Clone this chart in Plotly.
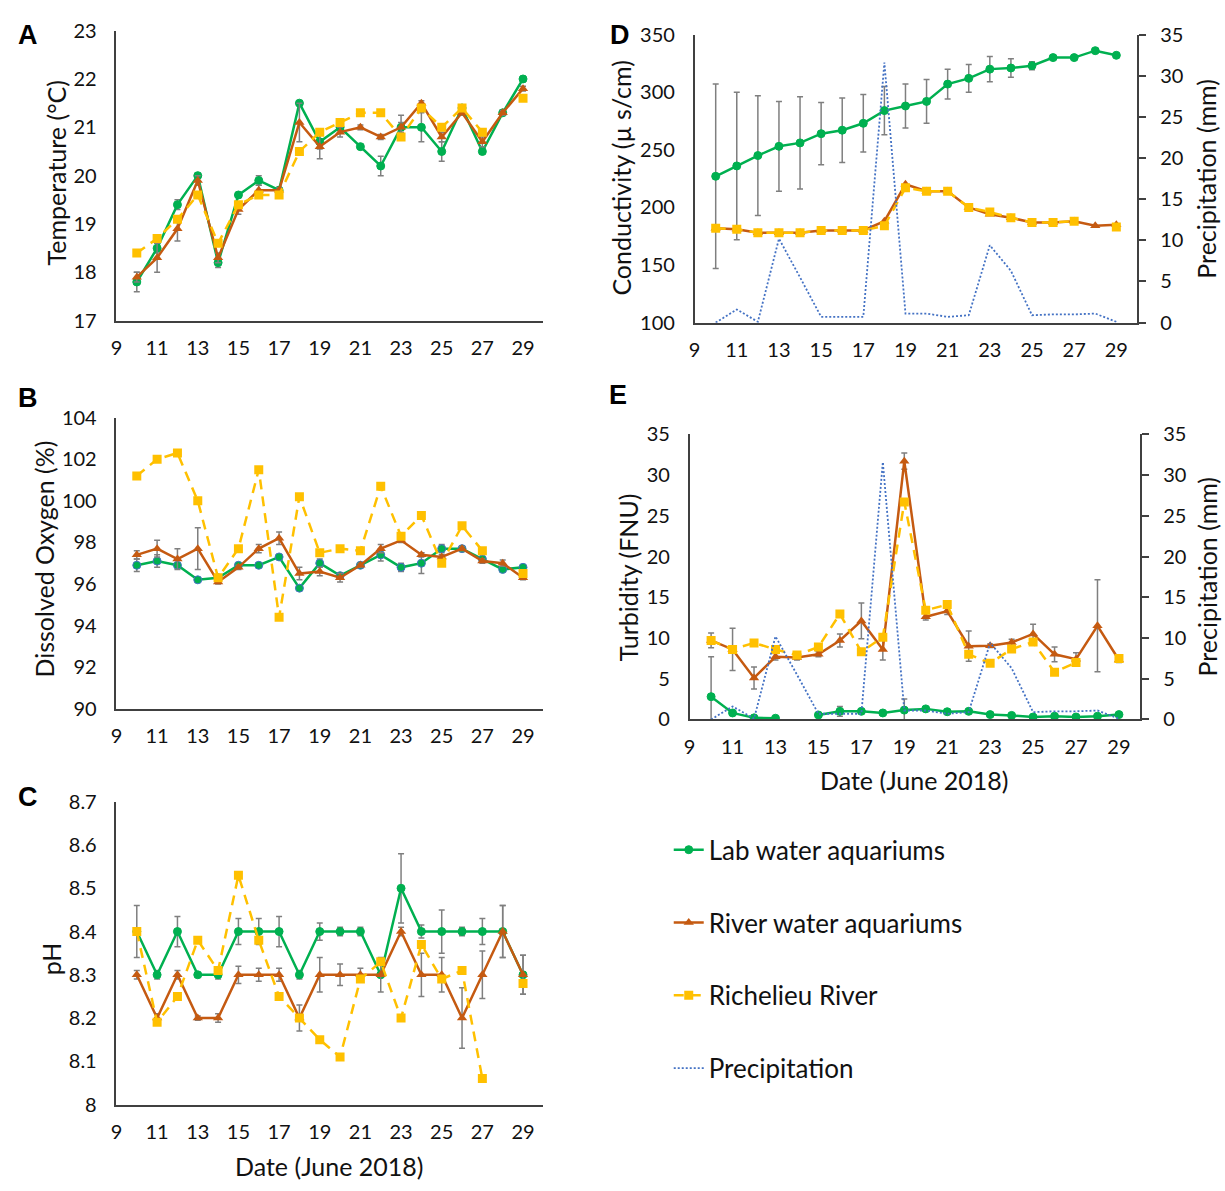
import plotly.graph_objects as go

days = list(range(10, 30))
x_ticks = list(range(9, 30, 2))

# Panel A: Temperature (°C)
temp_lab = [17.8, 18.5, 19.4, 20.0, 18.2, 19.6, 19.9, 19.7, 21.5, 20.7, 21.0, 20.6, 20.2, 21.0, 21.0, 20.5, 21.4, 20.5, 21.3, 22.0]
temp_lab_err = [0.2, 0.1, 0.1, 0.05, 0.1, 0.05, 0.1, 0.05, 0.05, 0.15, 0.05, 0.05, 0.2, 0.25, 0.3, 0.2, 0.05, 0.05, 0.05, 0.05]
temp_river = [17.9, 18.3, 18.9, 19.9, 18.3, 19.3, 19.7, 19.7, 21.1, 20.6, 20.9, 21.0, 20.8, 21.0, 21.5, 20.8, 21.3, 20.7, 21.3, 21.8]
temp_river_err = [0.1, 0.3, 0.25, 0.1, 0.1, 0.1, 0.1, 0.05, 0.4, 0.25, 0.1, 0.05, 0.05, 0.1, 0.05, 0.1, 0.05, 0.1, 0.05, 0.05]
temp_rich = [18.4, 18.7, 19.1, 19.6, 18.6, 19.4, 19.6, 19.6, 20.5, 20.9, 21.1, 21.3, 21.3, 20.8, 21.4, 21.0, 21.4, 20.9, None, 21.6]

# Panel B: Dissolved oxygen (%)
do_lab = [96.9, 97.1, 96.9, 96.2, 96.3, 96.9, 96.9, 97.3, 95.8, 97.0, 96.4, 96.9, 97.4, 96.8, 97.0, 97.7, 97.7, 97.2, 96.7, 96.8]
do_lab_err = [0.3, 0.3, 0.1, 0.05, 0.05, 0.1, 0.1, 0.1, 0.1, 0.2, 0.1, 0.1, 0.3, 0.2, 0.5, 0.2, 0.1, 0.1, 0.1, 0.1]
do_river = [97.4, 97.7, 97.2, 97.7, 96.1, 96.8, 97.7, 98.2, 96.5, 96.6, 96.3, 96.9, 97.7, 98.1, 97.4, 97.3, 97.7, 97.1, 97.0, 96.3]
do_river_err = [0.2, 0.4, 0.5, 1.0, 0.1, 0.1, 0.2, 0.3, 0.3, 0.2, 0.2, 0.1, 0.2, 0.1, 0.1, 0.1, 0.1, 0.1, 0.15, 0.1]
do_rich = [101.2, 102.0, 102.3, 100.0, 96.3, 97.7, 101.5, 94.4, 100.2, 97.5, 97.7, 97.6, 100.7, 98.3, 99.3, 97.0, 98.8, 97.6, None, 96.5]

# Panel C: pH
ph_lab = [8.4, 8.3, 8.4, 8.3, 8.3, 8.4, 8.4, 8.4, 8.3, 8.4, 8.4, 8.4, 8.3, 8.5, 8.4, 8.4, 8.4, 8.4, 8.4, 8.3]
ph_lab_err = [0.06, 0.01, 0.035, 0.005, 0.01, 0.03, 0.03, 0.035, 0.01, 0.02, 0.01, 0.01, 0.005, 0.08, 0.015, 0.05, 0.01, 0.03, 0.06, 0.045]
ph_river = [8.3, 8.2, 8.3, 8.2, 8.2, 8.3, 8.3, 8.3, 8.2, 8.3, 8.3, 8.3, 8.3, 8.4, 8.3, 8.3, 8.2, 8.3, 8.4, 8.3]
ph_river_err = [0.01, 0.01, 0.01, 0.005, 0.01, 0.02, 0.015, 0.015, 0.03, 0.04, 0.025, 0.015, 0.04, 0.01, 0.05, 0.04, 0.07, 0.055, 0.06, 0.045]
ph_rich = [8.4, 8.19, 8.25, 8.38, 8.31, 8.53, 8.38, 8.25, 8.2, 8.15, 8.11, 8.29, 8.33, 8.2, 8.37, 8.29, 8.31, 8.06, None, 8.28]

# Panel D: Conductivity (µS/cm)
cond_lab = [227, 236, 245, 253, 256, 264, 267, 273, 284, 288, 292, 307, 312, 320, 321, 323, 330, 330, 336, 332]
cond_lab_err = [80, 64, 52, 39, 40, 27, 28, 25, 21, 19, 19, 13, 12, 11, 8, 3.5, 1, 1, 1, 1]
cond_river = [182, 181, 178, 178, 178, 180, 180, 180, 188, 220, 214, 214, 200, 194, 191, 187, 187, 188, 184, 185]
cond_rich = [182, 181, 178, 178, 178, 180, 180, 180, 184, 217, 214, 214, 200, 196, 191, 187, 187, 188, None, 183]

# Precipitation (mm)
precip = [0, 1.6, 0.1, 10.2, 5.5, 0.7, 0.7, 0.7, 31.6, 1.1, 1.1, 0.7, 0.9, 9.4, 6.3, 0.9, 1.0, 1.0, 1.1, 0.1]

# Panel E: Turbidity (FNU)
turb_lab = [2.8, 0.8, 0.2, 0.15, None, 0.55, 1.0, 1.0, 0.8, 1.15, 1.3, 0.95, 1.0, 0.6, 0.5, 0.3, 0.4, 0.3, 0.4, 0.6]
turb_lab_err = [4.9, 0.2, 0.1, 0.05, 0, 0.2, 0.6, 0.2, 0.2, 1.35, 0.2, 0.1, 0.1, 0.1, 0.1, 0.1, 0.1, 0.1, 0.1, 0.1]
turb_river = [9.7, 8.6, 5.1, 7.7, 7.6, 8.0, 9.7, 12.1, 8.6, 31.7, 12.6, 13.3, 9.0, 9.05, 9.45, 10.5, 8.0, 7.4, 11.5, 7.3]
turb_river_err = [0.9, 2.6, 1.35, 0.4, 0.3, 0.3, 0.8, 2.2, 1.3, 1.0, 0.4, 0.4, 1.85, 0.2, 0.4, 1.2, 0.9, 0.8, 5.65, 0.3]
turb_rich = [9.7, 8.6, 9.4, 8.6, 7.9, 8.9, 12.95, 8.3, 10.1, 26.7, 13.4, 14.1, 8.0, 6.9, 8.65, 9.5, 5.8, 7.0, None, 7.5]

names = ["Lab water aquariums", "River water aquariums", "Richelieu River", "Precipitation"]

GREEN = "#00B050"
ORANGE = "#C55A11"
YELLOW = "#FFC000"
BLUE = "#4472C4"
GREY = "#7F7F7F"
AXIS = "#404040"
FONT = "Lato"

W, H = 1225, 1191


def px_x(a, b):
    return [a / W, b / W]


def px_y(top, bottom):
    return [1 - bottom / H, 1 - top / H]


fig = go.Figure()


def err(arr):
    if arr is None:
        return None
    return dict(type="data", array=arr, visible=True, color=GREY, thickness=1.5, width=3)


def add_set(xa, ya, lab, river, rich, lab_err=None, river_err=None, show=False, lab_outline=GREEN):
    fig.add_trace(go.Scatter(
        x=days, y=lab, xaxis=xa, yaxis=ya, name=names[0], mode="lines+markers",
        line=dict(color=GREEN, width=2.5),
        marker=dict(symbol="circle", size=8, color=GREEN, line=dict(color=lab_outline, width=1)),
        error_y=err(lab_err), showlegend=show, legendgroup="g1", legendrank=1))
    fig.add_trace(go.Scatter(
        x=days, y=river, xaxis=xa, yaxis=ya, name=names[1], mode="lines+markers",
        line=dict(color=ORANGE, width=2.5),
        marker=dict(symbol="triangle-up", size=9, color=ORANGE),
        error_y=err(river_err), showlegend=show, legendgroup="g2", legendrank=2))
    fig.add_trace(go.Scatter(
        x=days, y=rich, xaxis=xa, yaxis=ya, name=names[2], mode="lines+markers",
        line=dict(color=YELLOW, width=2.5, dash="10px,7px"),
        marker=dict(symbol="square", size=9, color=YELLOW),
        showlegend=show, legendgroup="g3", legendrank=3))


def add_precip(xa, ya, show=False):
    fig.add_trace(go.Scatter(
        x=days, y=precip, xaxis=xa, yaxis=ya, name=names[3], mode="lines",
        line=dict(color=BLUE, width=1.8, dash="2px,2px"),
        showlegend=show, legendgroup="g4", legendrank=4))


add_set("x", "y", temp_lab, temp_river, temp_rich, temp_lab_err, temp_river_err)
add_set("x2", "y2", do_lab, do_river, do_rich, do_lab_err, do_river_err, lab_outline=BLUE)
add_set("x3", "y3", ph_lab, ph_river, ph_rich, ph_lab_err, ph_river_err)
add_precip("x4", "y6", show=True)
add_set("x4", "y4", cond_lab, cond_river, cond_rich, cond_lab_err, None, show=True)
add_precip("x5", "y7")
add_set("x5", "y5", turb_lab, turb_river, turb_rich, turb_lab_err, turb_river_err)

tickfont = dict(family=FONT, size=20, color="#111111")


def xaxis(domain, anchor):
    return dict(domain=domain, anchor=anchor, range=[9, 30], tickvals=x_ticks,
                showline=True, linecolor=AXIS, linewidth=1.5, ticks="", showgrid=False,
                zeroline=False, tickfont=tickfont, ticklabelstandoff=9)


def yaxis(domain, anchor, rng, dtick):
    return dict(domain=domain, anchor=anchor, range=rng, dtick=dtick, tick0=rng[0],
                showline=True, linecolor=AXIS, linewidth=1.5, ticks="", showgrid=False,
                zeroline=False, tickfont=tickfont, ticklabelstandoff=14)


xl = px_x(111, 540)
xr_d = px_x(692, 1137)
xr_e = px_x(687, 1140)
yA = px_y(18, 314)
yB = px_y(413, 710)
yC = px_y(805, 1114)
yD = px_y(22, 316)
yE = px_y(430, 721)

right_axis = dict(showline=True, linecolor=AXIS, linewidth=1.5, ticks="outside", ticklen=7,
                  tickcolor=AXIS, tickwidth=1.5, showgrid=False, zeroline=False,
                  tickfont=tickfont, ticklabelstandoff=10, side="right", range=[0, 35], dtick=5, tick0=0)

fig.update_layout(
    width=W, height=H, margin=dict(l=0, r=0, t=0, b=0),
    paper_bgcolor="white", plot_bgcolor="white",
    font=dict(family=FONT, color="#111111"),
    xaxis=xaxis(xl, "y"), yaxis=yaxis(yA, "x", [17, 23], 1),
    xaxis2=xaxis(xl, "y2"), yaxis2=yaxis(yB, "x2", [90, 104], 2),
    xaxis3=xaxis(xl, "y3"), yaxis3=yaxis(yC, "x3", [8, 8.7], 0.1),
    xaxis4=xaxis(xr_d, "y4"), yaxis4=yaxis(yD, "x4", [100, 350], 50),
    xaxis5=xaxis(xr_e, "y5"), yaxis5=yaxis(yE, "x5", [0, 35], 5),
    yaxis6=dict(right_axis, domain=yD, anchor="x4", overlaying="y4"),
    yaxis7=dict(right_axis, domain=yE, anchor="x5", overlaying="y5"),
    legend=dict(x=666 / W, y=1 - 830 / H, xanchor="left", yanchor="top",
                font=dict(family=FONT, size=26, color="#111111"),
                tracegroupgap=36, traceorder="grouped", bgcolor="rgba(0,0,0,0)"),
)

ann = []


def title(text, x, y, angle=0, size=25):
    ann.append(dict(text=text, x=x / W, y=1 - y / H, xref="paper", yref="paper",
                    showarrow=False, textangle=angle, xanchor="center", yanchor="middle",
                    font=dict(family=FONT, size=size, color="#111111")))


title("Temperature (°C)", 50, 163, -90)
title("Dissolved Oxygen (%)", 38, 557, -90)
title("pH", 45, 965, -90)
title("Conductivity (µ s/cm)", 618, 168, -90)
title("Precipitation (mm)", 1205, 169, -90)
title("Turbidity (FNU)", 625, 576, -90)
title("Precipitation (mm)", 1207, 575, -90)
title("Date (June 2018)", 325, 1177, 0)
title("Date (June 2018)", 913, 783, 0)

for letter, x, y in [("A", 22, 22), ("B", 22, 393), ("C", 22, 800), ("D", 617, 22), ("E", 615, 390)]:
    ann.append(dict(text="<b>%s</b>" % letter, x=x / W, y=1 - y / H, xref="paper", yref="paper",
                    showarrow=False, xanchor="center", yanchor="middle",
                    font=dict(family="Liberation Sans", size=27, color="black")))

fig.update_layout(annotations=ann)

fig.write_html("out.html")
